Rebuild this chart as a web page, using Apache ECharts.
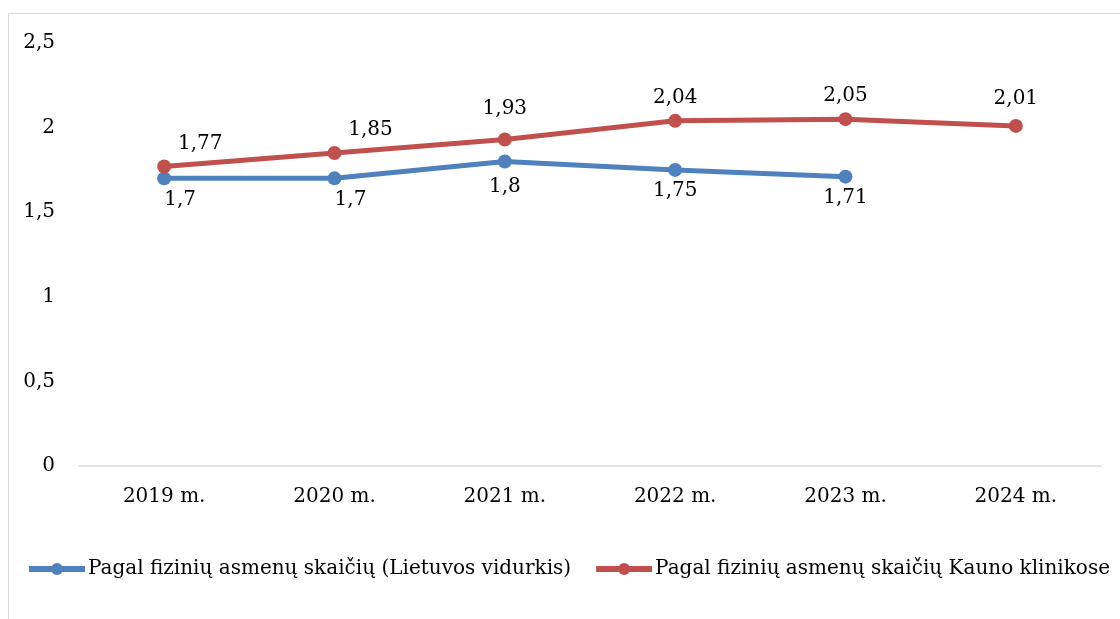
<!DOCTYPE html>
<html>
<head>
<meta charset="utf-8">
<script src="https://cdn.jsdelivr.net/npm/echarts@6/dist/echarts.min.js"></script>
<style>
  html, body { margin: 0; padding: 0; background: #fff; overflow: hidden; }
  #frame { position: absolute; left: 8px; top: 13px; width: 1200px; height: 700px; border: 1px solid #d9d9d9; }
  #chart { position: absolute; left: 0; top: 0; width: 1120px; height: 619px; }
</style>
</head>
<body>
<div id="frame"></div>
<div id="chart"></div>
<script>
const years = ["2019 m.", "2020 m.", "2021 m.", "2022 m.", "2023 m.", "2024 m."];
const lietuvosVidurkis = [1.7, 1.7, 1.8, 1.75, 1.71, null];
const kaunoKlinikos = [1.77, 1.85, 1.93, 2.04, 2.05, 2.01];
const seriesNames = [
  "Pagal fizinių asmenų skaičių (Lietuvos vidurkis)",
  "Pagal fizinių asmenų skaičių Kauno klinikose"
];

const font = "DejaVu Serif";
const comma = v => String(v).replace(".", ",");

// label nudges so they sit where the original put them
const blueShift = { 0: [16, 0], 1: [16, 0], 2: [0, 4] };
const redShift = { 0: [36, 0], 1: [36, 0], 2: [0, -8], 5: [0, -4] };

function withOffsets(values, shifts) {
  return values.map((v, i) => {
    if (v == null || !shifts[i]) return v;
    return { value: v, label: { offset: shifts[i] } };
  });
}

const myChart = echarts.init(document.getElementById("chart"));
const option = {
  animation: false,
  textStyle: { fontFamily: font },
  grid: { left: 79, right: 19, top: 43, bottom: 153 },
  legend: {
    top: 554,
    left: 21,
    itemWidth: 56,
    itemHeight: 15,
    itemGap: 22,
    lineStyle: { width: 6 },
    textStyle: { fontFamily: font, fontSize: 20, color: "#000", padding: [0, 0, 0, -2] },
    data: seriesNames
  },
  xAxis: {
    type: "category",
    data: years,
    axisLine: { lineStyle: { color: "#d9d9d9", width: 1.5 } },
    axisTick: { show: false },
    axisLabel: { fontFamily: font, fontSize: 20, color: "#000", margin: 21 }
  },
  yAxis: {
    type: "value",
    min: 0,
    max: 2.5,
    interval: 0.5,
    splitLine: { show: false },
    axisLine: { show: false },
    axisTick: { show: false },
    axisLabel: { fontFamily: font, fontSize: 20, color: "#000", margin: 24, formatter: comma }
  },
  series: [
    {
      name: seriesNames[0],
      type: "line",
      data: withOffsets(lietuvosVidurkis, blueShift),
      color: "#4f81bd",
      lineStyle: { width: 5, color: "#4f81bd" },
      symbol: "circle",
      symbolSize: 14,
      label: {
        show: true,
        position: "bottom",
        distance: 4,
        fontFamily: font,
        fontSize: 20,
        color: "#000",
        formatter: p => comma(p.value)
      }
    },
    {
      name: seriesNames[1],
      type: "line",
      data: withOffsets(kaunoKlinikos, redShift),
      color: "#c0504d",
      lineStyle: { width: 5, color: "#c0504d" },
      symbol: "circle",
      symbolSize: 14,
      label: {
        show: true,
        position: "top",
        distance: 6,
        fontFamily: font,
        fontSize: 20,
        color: "#000",
        formatter: p => comma(p.value)
      }
    }
  ]
};
myChart.setOption(option);
window.addEventListener("resize", function () {
  myChart.resize();
});
</script>
</body>
</html>
